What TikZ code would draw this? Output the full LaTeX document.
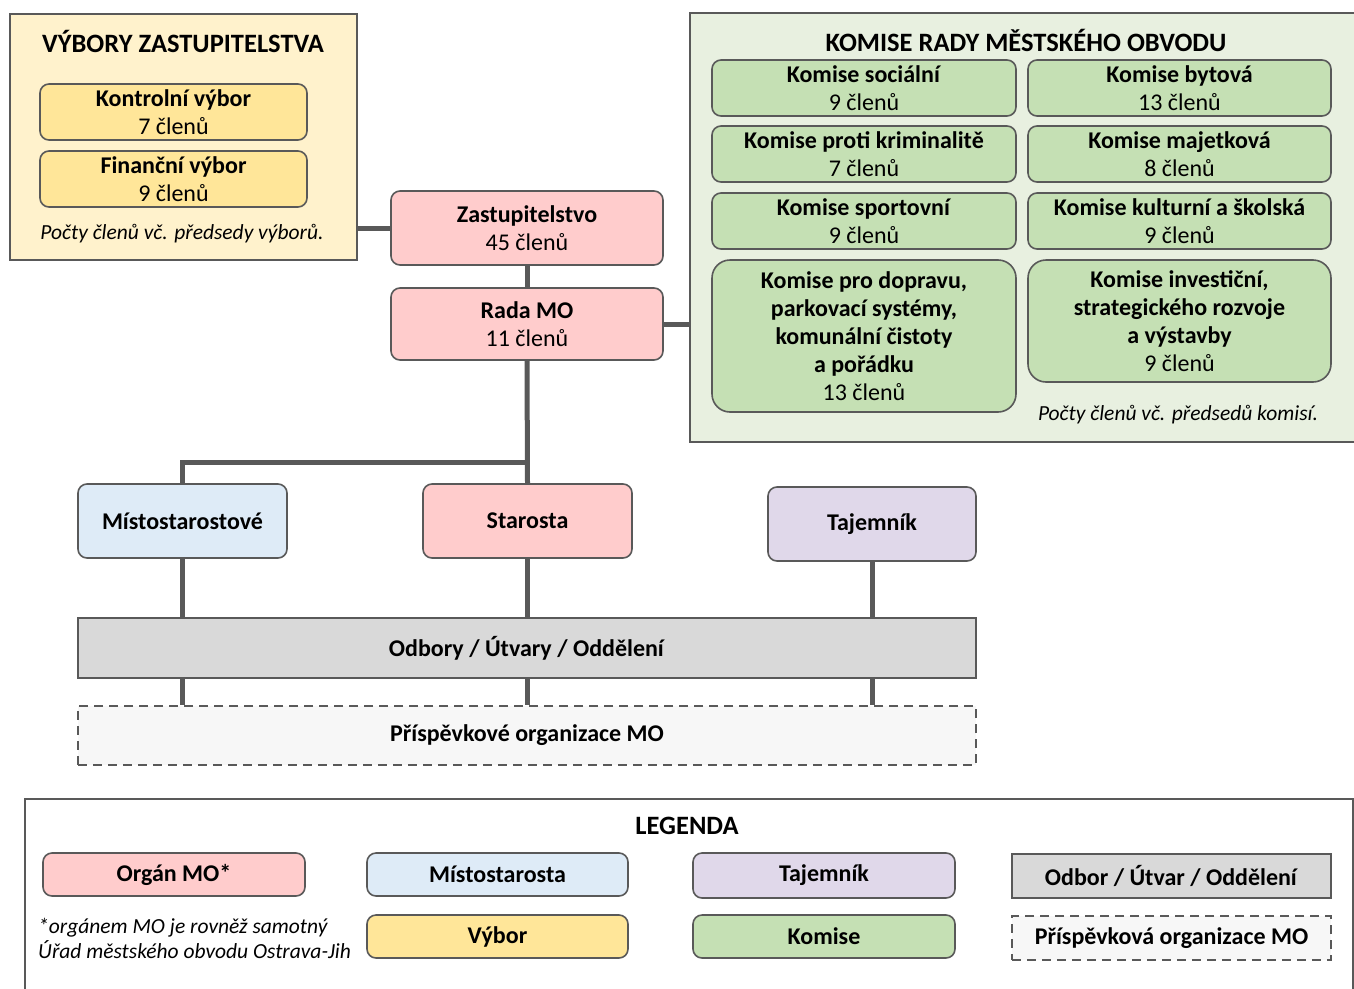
\documentclass[tikz,border=0pt]{standalone}
\usepackage{fontspec}
\setmainfont{Carlito}
\definecolor{linegray}{HTML}{595959}
\definecolor{pinkfill}{HTML}{FFCCCC}
\definecolor{bluefill}{HTML}{DEEBF7}
\definecolor{purplefill}{HTML}{E0D8EA}
\definecolor{yellowfill}{HTML}{FFE699}
\definecolor{yellowback}{HTML}{FFF2CC}
\definecolor{greenfill}{HTML}{C5E0B4}
\definecolor{greenback}{HTML}{E8F0E0}
\definecolor{grayfill}{HTML}{D9D9D9}
\begin{document}
\begin{tikzpicture}[x=1pt, y=-1pt,
            box/.style={draw=linegray, line width=1.6pt, rounded corners=9pt, align=center, inner sep=0pt,
                        font=\fontsize{24}{28}\selectfont},
            organ/.style={box, fill=pinkfill},
            deputy/.style={box, fill=bluefill},
            secretary/.style={box, fill=purplefill},
            committee/.style={box, fill=yellowfill},
            commission/.style={box, fill=greenfill},
            dept/.style={box, rounded corners=0pt, fill=grayfill},
            contrib/.style={box, rounded corners=0pt, dashed, dash pattern=on 9pt off 6pt, fill=gray!6},
            panel/.style={draw=linegray, line width=1.6pt, inner sep=0pt},
            heading/.style={font=\fontsize{26.5}{30}\selectfont\bfseries, inner sep=0pt},
            note/.style={font=\fontsize{21.5}{25}\selectfont\itshape, align=center, inner sep=0pt},
            link/.style={draw=linegray, line width=5pt}
            ]
            \useasboundingbox (0,0) rectangle (1354,988);

            % vybory zastupitelstva
            \node[panel, fill=yellowback, minimum width=347, minimum height=246] (vz) at (183.5,137) {};
            \node[heading] (vzt) at (183,41) {VÝBORY ZASTUPITELSTVA};
            \node[committee, minimum width=267, minimum height=56] (kv) at (173.5,112) {\textbf{Kontrolní výbor}\\7 členů};
            \node[committee, minimum width=267, minimum height=56] (fv) at (173.5,179) {\textbf{Finanční výbor}\\9 členů};
            \node[note] (vzn) at (182,234) {Počty členů vč. předsedy výborů.};

            % komise rady
            \node[panel, fill=greenback, minimum width=680, minimum height=429] (kr) at (1030,227.5) {};
            \node[heading] (krt) at (1026,40) {KOMISE RADY MĚSTSKÉHO OBVODU};
            \node[commission, minimum width=304, minimum height=56] (k1) at (864,88) {\textbf{Komise sociální}\\9 členů};
            \node[commission, minimum width=303, minimum height=56] (k2) at (1179.5,88) {\textbf{Komise bytová}\\13 členů};
            \node[commission, minimum width=304, minimum height=56] (k3) at (864,154) {\textbf{Komise proti kriminalitě}\\7 členů};
            \node[commission, minimum width=303, minimum height=56] (k4) at (1179.5,154) {\textbf{Komise majetková}\\8 členů};
            \node[commission, minimum width=304, minimum height=56] (k5) at (864,221) {\textbf{Komise sportovní}\\9 členů};
            \node[commission, minimum width=303, minimum height=56] (k6) at (1179.5,221) {\textbf{Komise kulturní a školská}\\9 členů};
            \node[commission, minimum width=304, minimum height=152, rounded corners=18pt] (k7) at (864,336)
                {\textbf{Komise pro dopravu,}\\\textbf{parkovací systémy,}\\\textbf{komunální čistoty}\\\textbf{a pořádku}\\13 členů};
            \node[commission, minimum width=303, minimum height=122, rounded corners=18pt] (k8) at (1179.5,321)
                {\textbf{Komise investiční,}\\\textbf{strategického rozvoje}\\\textbf{a výstavby}\\9 členů};
            \node[note] (krn) at (1178,415) {Počty členů vč. předsedů komisí.};

            % organy
            \node[organ, minimum width=272, minimum height=74] (zast) at (527,228) {\textbf{Zastupitelstvo}\\45 členů};
            \node[organ, minimum width=272, minimum height=72] (rada) at (527,324) {\textbf{Rada MO}\\11 členů};
            \node[deputy, minimum width=209, minimum height=74] (mist) at (182.5,521) {\textbf{Místostarostové}};
            \node[organ, minimum width=209, minimum height=74] (star) at (527.5,521) {\textbf{Starosta}};
            \node[secretary, minimum width=208, minimum height=74] (taj) at (872,524) {\textbf{Tajemník}};
            \node[dept, minimum width=898, minimum height=60] (odb) at (527,648) {\textbf{Odbory / Útvary / Oddělení}};
            \node[contrib, minimum width=898, minimum height=59] (prisp) at (527,735.5) {\textbf{Příspěvkové organizace MO}};
            \coordinate (br) at (527,462);

            \draw[link] (vz.east |- zast.west) -- (zast.west);
            \draw[link] (rada.east) -- (rada.east -| kr.west);
            \draw[link] (zast.south) -- (rada.north);
            \draw[link] (rada.south) -- (star.north);
            \draw[link] (br) -| (mist.north);
            \draw[link] (mist.south) -- (mist.south |- odb.north);
            \draw[link] (star.south) -- (star.south |- odb.north);
            \draw[link] (taj.south) -- (taj.south |- odb.north);
            \draw[link] (odb.south -| mist) -- (prisp.north -| mist);
            \draw[link] (odb.south -| star) -- (prisp.north -| star);
            \draw[link] (odb.south -| taj) -- (prisp.north -| taj);

            % legenda
            \node[panel, fill=white, minimum width=1328, minimum height=200, anchor=north west] (leg) at (24,798) {};
            \node[heading] (legt) at (687,826) {LEGENDA};
            \node[organ, minimum width=262, minimum height=43] (l1) at (174,874.5) {\textbf{Orgán MO*}};
            \node[deputy, minimum width=261, minimum height=43] (l2) at (497.5,874.5) {\textbf{Místostarosta}};
            \node[secretary, minimum width=262, minimum height=45] (l3) at (824,875.5) {\textbf{Tajemník}};
            \node[dept, minimum width=319, minimum height=44] (l4) at (1171.5,876) {\textbf{Odbor / Útvar / Oddělení}};
            \node[note, align=left, anchor=west] (legn) at (38,938.5) {*orgánem MO je rovněž samotný\\Úřad městského obvodu Ostrava-Jih};
            \node[committee, minimum width=261, minimum height=43] (l5) at (497.5,936.5) {\textbf{Výbor}};
            \node[commission, minimum width=262, minimum height=43] (l6) at (824,936.5) {\textbf{Komise}};
            \node[contrib, minimum width=319, minimum height=44] (l7) at (1171.5,938) {\textbf{Příspěvková organizace MO}};

            \end{tikzpicture}
\end{document}
